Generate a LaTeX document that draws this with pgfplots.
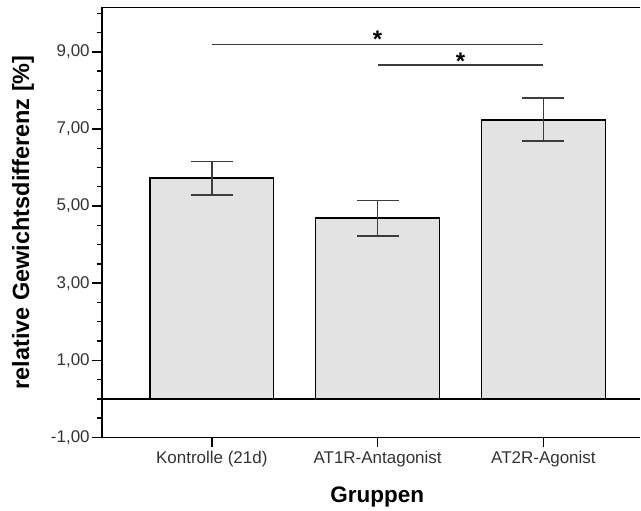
\documentclass[border=0pt]{standalone}
\usepackage{fontspec}
\setmainfont{Liberation Sans}
\usepackage{pgfplots}
\pgfplotsset{compat=1.18}
\definecolor{barfill}{RGB}{227,227,227}
\definecolor{errc}{RGB}{60,60,60}
\begin{document}
\begin{tikzpicture}
\path (-102pt,-73.1pt) rectangle (539pt,437.9pt);
\begin{axis}[
  at={(0pt,0pt)}, anchor=south west,
  scale only axis, width=539pt, height=430.6pt,
  xmin=-0.663, xmax=2.584, ymin=-1, ymax=10.156,
  ybar, bar width=124pt,
  axis line style={draw=none},
  tick align=outside,
  major tick length=10pt, minor tick length=5pt,
  every tick/.style={black, line width=1.4pt},
  xtick={0,1,2},
  xticklabels={Kontrolle (21d),AT1R-Antagonist,AT2R-Agonist},
  xtick pos=bottom, ytick pos=left,
  ytick={-1,1,3,5,7,9},
  yticklabels={{-1,00},{1,00},{3,00},{5,00},{7,00},{9,00}},
  minor ytick={-0.5,0,...,10},
  tick label style={font=\fontsize{17}{20}\selectfont, text=black!80},
  yticklabel style={inner xsep=2pt},
  xlabel={Gruppen}, ylabel={relative Gewichtsdifferenz [\%]},
  every axis x label/.style={at={(axis description cs:0.5114,-0.1512)}, anchor=base, font=\bfseries\fontsize{22.5}{26}\selectfont},
  every axis y label/.style={at={(axis description cs:-0.1466,0.5)}, rotate=90, anchor=center, font=\bfseries\fontsize{23.5}{26}\selectfont},
]
\addplot[fill=barfill, draw=black, line width=1.4pt,
  error bars/.cd, y dir=both, y explicit,
  error bar style={errc, line width=1.5pt},
  error mark options={rotate=90, mark size=21pt, errc, line width=1.8pt}]
  coordinates {(0,5.725) +- (0,0.43) (1,4.689) +- (0,0.455) (2,7.236) +- (0,0.557)};
\addplot[sharp plot, no marks, black, line width=1.4pt] coordinates {(-0.663,0) (2.584,0)};
\addplot[sharp plot, no marks, errc, line width=1.5pt] coordinates {(0,9.197) (2,9.197)};
\addplot[sharp plot, no marks, errc, line width=1.5pt] coordinates {(1,8.653) (2,8.653)};
\node[anchor=base, inner sep=0pt, font=\bfseries\fontsize{24}{24}\selectfont] at (axis cs:1.0,9.123) {*};
\node[anchor=base, inner sep=0pt, font=\bfseries\fontsize{24}{24}\selectfont] at (axis cs:1.5,8.535) {*};
\end{axis}
\draw[black, line width=1.5pt] (539pt,430.6pt) -- (0pt,430.6pt) -- (0pt,0pt) -- (539pt,0pt);
\end{tikzpicture}
\end{document}
